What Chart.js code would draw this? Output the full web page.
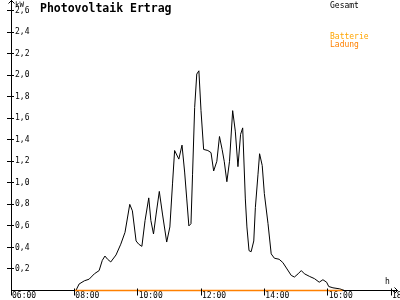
<!DOCTYPE html>
<html>
<head>
<meta charset="utf-8">
<script src="https://cdn.jsdelivr.net/npm/chart.js@4"></script>
<style>
  body { margin: 0; background: #fff; }
  canvas { display: block; }
</style>
</head>
<body>
<canvas id="pv-chart" width="400" height="300"></canvas>
<script>
// values (kW)
var gesamtTimes = ['08:03','08:09','08:19','08:28','08:38','08:47','08:53','08:58',
  '09:03','09:09','09:19','09:28','09:36','09:45','09:50','09:57',
  '10:02','10:08','10:14','10:21','10:25','10:30','10:35','10:41','10:47','10:55',
  '11:01','11:06','11:10','11:18','11:24','11:29','11:33','11:37','11:41','11:44','11:48','11:52','11:56',
  '12:00','12:05','12:13','12:19','12:24','12:30','12:35','12:40','12:44','12:49','12:54',
  '13:00','13:05','13:10','13:15','13:19','13:24','13:27','13:31','13:35','13:40','13:43','13:48','13:51','13:56',
  '14:00','14:07','14:13','14:19','14:28','14:35','14:43','14:51','14:57',
  '15:04','15:10','15:16','15:26','15:35','15:44','15:51','15:58',
  '16:02','16:10','16:23','16:32']
var gesamtValues = [0,0.06,0.09,0.105,0.155,0.185,0.28,0.32,
  0.29,0.265,0.33,0.43,0.54,0.80,0.74,0.46,
  0.43,0.41,0.65,0.86,0.65,0.525,0.71,0.92,0.71,0.45,
  0.59,0.99,1.30,1.22,1.35,1.10,0.85,0.60,0.62,1.08,1.70,2.01,2.04,
  1.67,1.31,1.30,1.28,1.11,1.20,1.43,1.31,1.20,1.01,1.20,
  1.67,1.48,1.15,1.45,1.51,0.85,0.59,0.37,0.36,0.46,0.77,1.08,1.27,1.16,
  0.90,0.62,0.34,0.30,0.29,0.26,0.20,0.14,0.125,
  0.155,0.185,0.155,0.13,0.11,0.077,0.10,0.077,
  0.037,0.025,0.015,0]
var ladungTimes = ['08:00','16:28']
var ladungValues = [0, 0]
var xTicks = [6, 8, 10, 12, 14, 16, 18]
var yTicks = [0, 0.2, 0.4, 0.6, 0.8, 1.0, 1.2, 1.4, 1.6, 1.8, 2.0, 2.2, 2.4, 2.6]

var toHours = function(t) {
  var parts = t.split(':')
  return Number(parts[0]) + Number(parts[1]) / 60
}
var toPoints = function(times, values) {
  return times.map(function(t, i) { return { x: toHours(t), y: values[i] } })
}

var mono = 'DejaVu Sans Mono'
Chart.defaults.font.family = mono
Chart.defaults.font.size = 8
Chart.defaults.color = '#000'

// axis arrows, tick crosses, title and the legend texts
var decor = {
  id: 'decor',
  afterDraw: function(chart) {
    var ctx = chart.ctx
    var area = chart.chartArea
    var ax = area.left + 0.5
    var ay = area.bottom
    ctx.save()
    ctx.strokeStyle = '#000'
    ctx.lineWidth = 1
    ctx.beginPath()
    ctx.moveTo(ax, area.top); ctx.lineTo(ax, 0)
    ctx.moveTo(ax - 3, 3.5); ctx.lineTo(ax, 0.5); ctx.lineTo(ax + 3, 3.5)
    ctx.moveTo(area.right, ay); ctx.lineTo(398, ay)
    ctx.moveTo(394.5, ay - 3); ctx.lineTo(397.5, ay); ctx.lineTo(394.5, ay + 3)
    chart.scales.y.ticks.forEach(function(t) {
      if (t.value === 0) return
      var y = Math.floor(chart.scales.y.getPixelForValue(t.value)) + 0.5
      ctx.moveTo(area.left - 4, y); ctx.lineTo(area.left + 3, y)
    })
    chart.scales.x.ticks.forEach(function(t) {
      var x = Math.floor(chart.scales.x.getPixelForValue(t.value)) + 0.5
      ctx.moveTo(x, ay - 2); ctx.lineTo(x, ay + 5)
    })
    ctx.stroke()

    ctx.textAlign = 'left'
    ctx.textBaseline = 'alphabetic'
    ctx.fillStyle = '#000'
    ctx.font = 'bold 11.5px "' + mono + '"'
    ctx.fillText('Photovoltaik Ertrag', 40, 11.5)
    ctx.font = '8px "' + mono + '"'
    ctx.fillText('Gesamt', 330, 8)
    ctx.fillText('h', 385, 283.5)
    ctx.font = '7.5px "' + mono + '"'
    ctx.fillText('kW', 15, 7)
    ctx.font = '8px "' + mono + '"'
    ctx.fillStyle = '#ffa500'
    ctx.fillText('Batterie', 330, 39)
    ctx.fillStyle = '#ff8000'
    ctx.fillText('Ladung', 330, 46.5)
    ctx.restore()
  }
}

var context = document.getElementById('pv-chart')
var chart = new Chart(context, {
  type: 'line',
  data: {
    datasets: [{
      label: 'Gesamt',
      data: toPoints(gesamtTimes, gesamtValues),
      borderColor: '#000',
      borderWidth: 1,
      pointRadius: 0,
      tension: 0,
      order: 1
    }, {
      label: 'Batterie Ladung',
      data: toPoints(ladungTimes, ladungValues),
      borderColor: '#ff8000',
      borderWidth: 1.5,
      pointRadius: 0,
      tension: 0,
      clip: 2,
      order: 0
    }]
  },
  options: {
    responsive: false,
    devicePixelRatio: 1,
    animation: false,
    layout: { padding: { left: 11, right: 9, top: 10.5, bottom: 0 } },
    plugins: {
      legend: { display: false },
      tooltip: { enabled: false },
      title: { display: false }
    },
    scales: {
      x: {
        type: 'linear',
        min: xTicks[0],
        max: xTicks[xTicks.length - 1],
        grid: { display: false, drawTicks: false },
        border: { display: true, color: '#000', width: 1 },
        afterBuildTicks: function(scale) {
          scale.ticks = xTicks.map(function(v) { return { value: v } })
        },
        ticks: {
          align: 'start',
          labelOffset: 1,
          padding: 1,
          maxRotation: 0,
          autoSkip: false,
          callback: function(v) { return (v < 10 ? '0' : '') + v + ':00' }
        },
        afterFit: function(scale) {
          scale.height = 9.5
          scale.paddingLeft = 0
          scale.paddingRight = 0
        }
      },
      y: {
        min: yTicks[0],
        max: yTicks[yTicks.length - 1],
        grid: { display: false, drawTicks: false },
        border: { display: true, color: '#000', width: 1 },
        afterBuildTicks: function(scale) {
          scale.ticks = yTicks.map(function(v) { return { value: v } })
        },
        ticks: {
          mirror: true,
          padding: 4,
          autoSkip: false,
          callback: function(v) { return v === 0 ? '' : v.toFixed(1).replace('.', ',') }
        },
        afterFit: function(scale) {
          scale.width = 0
          scale.paddingTop = 0
          scale.paddingBottom = 0
        }
      }
    }
  },
  plugins: [decor]
})
</script>
</body>
</html>
